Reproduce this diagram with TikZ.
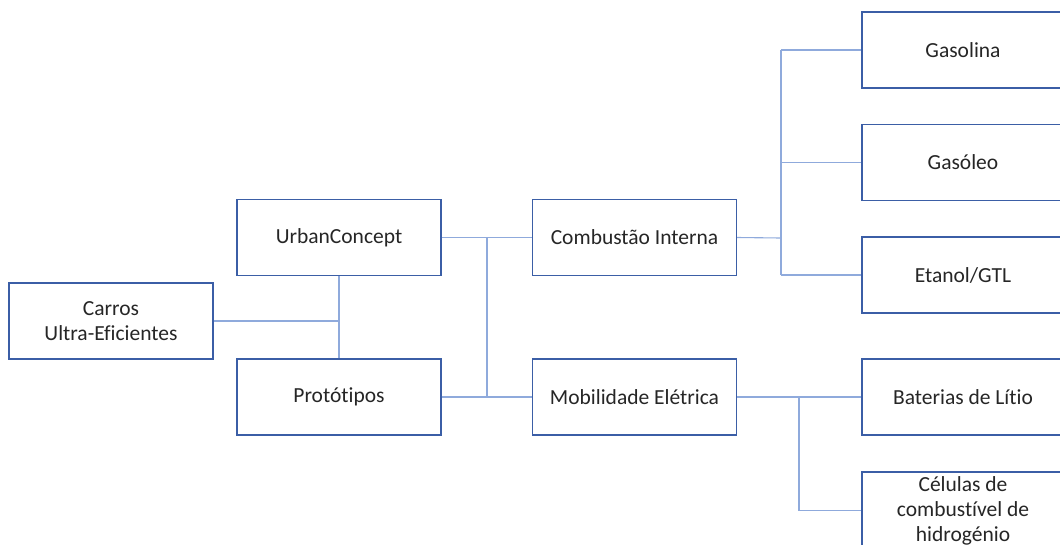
\documentclass[tikz,border=0pt]{standalone}
\usepackage{fontspec}
\setmainfont[Ligatures=NoCommon]{Carlito}
\definecolor{boxblue}{HTML}{3B5EA6}
\definecolor{lineblue}{HTML}{8FAADC}
\begin{document}
\begin{tikzpicture}[x=1pt,y=-1pt,
  box/.style={draw=boxblue,line width=1.4pt,fill=white,minimum width=204pt,minimum height=76pt,inner sep=2pt,align=center,font=\fontsize{21.5pt}{25pt}\selectfont,text=black!85},
  conn/.style={draw=lineblue,line width=1.1pt}]
\path[use as bounding box,clip] (0,0) rectangle (1060,544);
\node[box] (car) at (111,321) {Carros\\Ultra-Eficientes};
\node[box] (uc) at (339,237.5) {UrbanConcept};
\node[box] (pt) at (339,397) {Protótipos};
\node[box] (ci) at (634.5,237.5) {Combustão Interna};
\node[box] (me) at (634.5,397) {Mobilidade Elétrica};
\node[box,minimum width=202pt] (gas) at (963,50) {Gasolina};
\node[box,minimum width=202pt] (gso) at (963,162.5) {Gasóleo};
\node[box,minimum width=202pt] (eta) at (963,275) {Etanol/GTL};
\node[box,minimum width=202pt] (bat) at (963,397) {Baterias de Lítio};
\node[box,minimum width=202pt,minimum height=77pt] (cel) at (963,510.5) {Células de\\combustível de\\hidrogénio};
\coordinate (j1) at (487,238);
\coordinate (j2) at (781,238);
\coordinate (j3) at (799,397);
\draw[conn] (car.east) -- (car.east -| uc.south);
\draw[conn] (uc.south) -- (pt.north);
\draw[conn] (uc.east) -- (ci.west);
\draw[conn] (pt.east) -- (me.west);
\draw[conn] (j1 |- uc.east) -- (j1 |- pt.east);
\draw[conn] (ci.east) -- (j2);
\draw[conn] (j2 |- gas.west) -- (j2 |- eta.west);
\draw[conn] (j2 |- gas.west) -- (gas.west);
\draw[conn] (j2 |- gso.west) -- (gso.west);
\draw[conn] (j2 |- eta.west) -- (eta.west);
\draw[conn] (me.east) -- (bat.west);
\draw[conn] (j3) -- (j3 |- cel.west) -- (cel.west);
\end{tikzpicture}
\end{document}
